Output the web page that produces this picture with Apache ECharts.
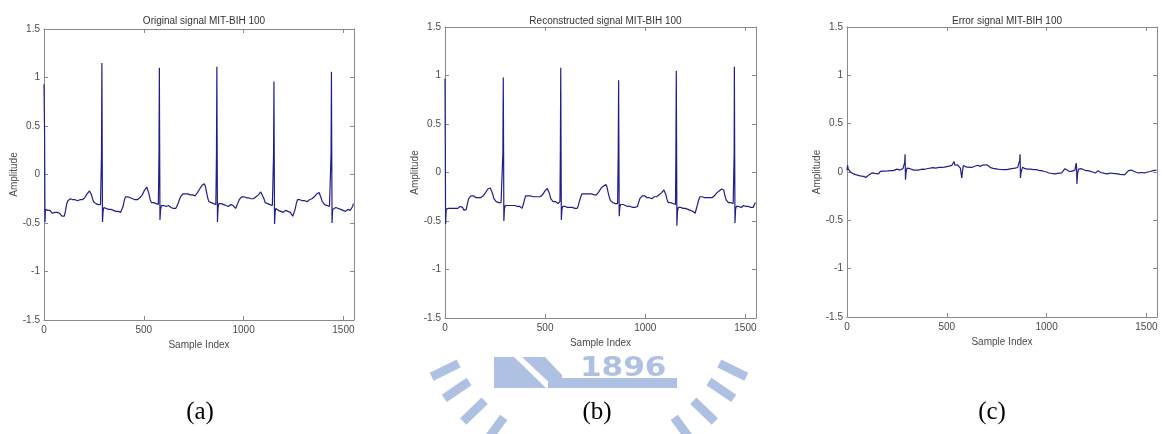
<!DOCTYPE html>
<html>
<head>
<meta charset="utf-8">
<script src="https://cdn.jsdelivr.net/npm/echarts@6/dist/echarts.min.js"></script>
<style>
  html, body { margin: 0; padding: 0; background: #fff; }
  #main { width: 1162px; height: 434px; }
</style>
</head>
<body>
<div id="main"></div>
<script>
// Panel titles and captions
const panelTitles = ['Original signal MIT-BIH 100', 'Reconstructed signal MIT-BIH 100', 'Error signal MIT-BIH 100'];
const panelCaptions = ['(a)', '(b)', '(c)'];

// Axis ticks
const xTicks = [0, 500, 1000, 1500];
const yTicks = [-1.5, -1, -0.5, 0, 0.5, 1, 1.5];
const xMax = 1553;

// [sample index, amplitude]
const originalSignal = [
  [0,0.93],[2,0.95],[3,0.4],[5,-0.49],[7,-0.36],[12,-0.38],[18,-0.37],[24,-0.39],[30,-0.37],[36,-0.38],[42,-0.40],[48,-0.38],[54,-0.39],[60,-0.40],[66,-0.39],[72,-0.41],[78,-0.40],[84,-0.42],[90,-0.43],[96,-0.45],[102,-0.43],[108,-0.37],[114,-0.30],[120,-0.27],[126,-0.26],[132,-0.25],[138,-0.27],[144,-0.26],[150,-0.27],[156,-0.26],[162,-0.28],[168,-0.27],[174,-0.28],[180,-0.26],[186,-0.27],[192,-0.26],[198,-0.25],[204,-0.24],[210,-0.22],[216,-0.20],[222,-0.18],[228,-0.17],[233,-0.18],[238,-0.21],[243,-0.25],[248,-0.28],[254,-0.29],[260,-0.30],[266,-0.29],[272,-0.31],[278,-0.32],[283,-0.31],[286,-0.30],
  [288,0.2],[290,1.15],[291,0.6],[293,-0.49],[296,-0.38],[300,-0.34],[306,-0.36],[312,-0.35],[318,-0.37],[324,-0.36],[330,-0.37],[336,-0.36],[342,-0.38],[348,-0.37],[354,-0.36],[360,-0.38],[366,-0.37],[372,-0.38],[378,-0.37],[384,-0.39],[390,-0.38],[396,-0.33],[402,-0.27],[408,-0.23],[414,-0.22],[420,-0.23],[426,-0.22],[432,-0.24],[438,-0.23],[444,-0.25],[450,-0.24],[456,-0.26],[462,-0.25],[468,-0.26],[474,-0.25],[480,-0.24],[486,-0.23],[492,-0.21],[498,-0.19],[504,-0.16],[510,-0.14],[515,-0.13],[520,-0.15],[526,-0.20],[532,-0.26],[538,-0.29],[544,-0.30],[550,-0.29],[556,-0.31],[562,-0.30],[568,-0.32],[573,-0.31],
  [576,0.2],[578,1.10],[579,0.5],[581,-0.47],[584,-0.36],[588,-0.32],[594,-0.33],[600,-0.32],[606,-0.34],[612,-0.33],[618,-0.34],[624,-0.32],[630,-0.33],[636,-0.34],[642,-0.33],[648,-0.35],[654,-0.34],[660,-0.35],[666,-0.34],[672,-0.30],[678,-0.26],[684,-0.23],[690,-0.21],[696,-0.20],[702,-0.19],[708,-0.20],[714,-0.21],[720,-0.20],[726,-0.22],[732,-0.21],[738,-0.22],[744,-0.21],[750,-0.23],[756,-0.22],[762,-0.21],[768,-0.19],[774,-0.17],[780,-0.15],[786,-0.13],[792,-0.11],[798,-0.10],[803,-0.095],[808,-0.12],[814,-0.18],[820,-0.24],[826,-0.28],[832,-0.30],[838,-0.29],[844,-0.31],[850,-0.30],[856,-0.32],[861,-0.31],
  [864,0.2],[866,1.11],[867,0.5],[869,-0.49],[872,-0.34],[876,-0.30],[882,-0.31],[888,-0.30],[894,-0.32],[900,-0.31],[906,-0.30],[912,-0.32],[918,-0.31],[924,-0.33],[930,-0.32],[936,-0.31],[942,-0.33],[948,-0.32],[954,-0.34],[960,-0.35],[966,-0.33],[972,-0.29],[978,-0.26],[984,-0.24],[990,-0.23],[996,-0.24],[1002,-0.23],[1008,-0.25],[1014,-0.24],[1020,-0.25],[1026,-0.24],[1032,-0.26],[1038,-0.25],[1044,-0.26],[1050,-0.25],[1056,-0.24],[1062,-0.23],[1068,-0.22],[1074,-0.21],[1080,-0.19],[1086,-0.18],[1091,-0.175],[1096,-0.20],[1102,-0.25],[1108,-0.29],[1114,-0.31],[1120,-0.30],[1126,-0.32],[1132,-0.31],[1138,-0.33],[1144,-0.32],[1148,-0.31],
  [1150,0.2],[1152,0.96],[1153,0.4],[1155,-0.51],[1158,-0.38],[1162,-0.35],[1168,-0.36],[1174,-0.37],[1180,-0.36],[1186,-0.38],[1192,-0.37],[1198,-0.39],[1204,-0.38],[1210,-0.37],[1216,-0.39],[1222,-0.38],[1228,-0.40],[1234,-0.39],[1240,-0.41],[1246,-0.43],[1252,-0.42],[1258,-0.36],[1264,-0.30],[1270,-0.26],[1276,-0.25],[1282,-0.26],[1288,-0.25],[1294,-0.27],[1300,-0.26],[1306,-0.27],[1312,-0.26],[1318,-0.28],[1324,-0.27],[1330,-0.26],[1336,-0.27],[1342,-0.25],[1348,-0.24],[1354,-0.23],[1360,-0.21],[1366,-0.20],[1372,-0.19],[1378,-0.185],[1383,-0.20],[1388,-0.24],[1394,-0.28],[1400,-0.30],[1406,-0.31],[1412,-0.30],[1418,-0.32],[1424,-0.31],[1430,-0.33],[1436,-0.32],
  [1438,0.2],[1440,1.06],[1441,0.5],[1443,-0.50],[1446,-0.36],[1450,-0.34],[1456,-0.35],[1462,-0.34],[1468,-0.36],[1474,-0.35],[1480,-0.37],[1486,-0.36],[1492,-0.35],[1498,-0.37],[1504,-0.36],[1510,-0.38],[1516,-0.37],[1522,-0.36],[1528,-0.38],[1534,-0.37],[1540,-0.36],[1546,-0.33],[1550,-0.30]
];

const reconstructedSignal = [
  [0,0.97],[1,0.5],[3,-0.53],[6,-0.38],[10,-0.36],[16,-0.37],[22,-0.36],[28,-0.37],[34,-0.36],[40,-0.37],[46,-0.36],[52,-0.37],[58,-0.36],[64,-0.37],[70,-0.36],[76,-0.35],[82,-0.34],[88,-0.36],[94,-0.39],[100,-0.40],[106,-0.38],[112,-0.32],[118,-0.27],[124,-0.25],[130,-0.24],[136,-0.25],[142,-0.24],[148,-0.25],[154,-0.26],[160,-0.25],[166,-0.26],[172,-0.27],[178,-0.26],[184,-0.25],[190,-0.24],[196,-0.23],[202,-0.21],[208,-0.19],[214,-0.17],[220,-0.16],[226,-0.16],[232,-0.18],[238,-0.22],[244,-0.27],[250,-0.29],[256,-0.30],[262,-0.31],[268,-0.31],[274,-0.32],[280,-0.31],[285,-0.30],
  [289,0.2],[291,0.98],[292,0.5],[294,-0.50],[297,-0.37],[301,-0.34],[307,-0.35],[313,-0.34],[319,-0.35],[325,-0.34],[331,-0.35],[337,-0.34],[343,-0.35],[349,-0.34],[355,-0.36],[361,-0.35],[367,-0.36],[373,-0.35],[379,-0.37],[385,-0.37],[391,-0.33],[397,-0.28],[403,-0.24],[409,-0.23],[415,-0.24],[421,-0.23],[427,-0.24],[433,-0.23],[439,-0.25],[445,-0.24],[451,-0.25],[457,-0.26],[463,-0.25],[469,-0.24],[475,-0.25],[481,-0.24],[487,-0.23],[493,-0.21],[499,-0.19],[505,-0.17],[511,-0.165],[516,-0.18],[522,-0.22],[528,-0.27],[534,-0.29],[540,-0.30],[546,-0.31],[552,-0.30],[558,-0.31],[564,-0.32],[570,-0.31],[574,-0.30],
  [576,0.2],[578,1.08],[579,0.5],[581,-0.49],[584,-0.38],[588,-0.35],[594,-0.36],[600,-0.35],[606,-0.37],[612,-0.36],[618,-0.37],[624,-0.36],[630,-0.37],[636,-0.36],[642,-0.38],[648,-0.37],[654,-0.38],[660,-0.37],[666,-0.34],[672,-0.29],[678,-0.25],[684,-0.22],[690,-0.21],[696,-0.22],[702,-0.21],[708,-0.22],[714,-0.23],[720,-0.22],[726,-0.23],[732,-0.22],[738,-0.24],[744,-0.23],[750,-0.22],[756,-0.23],[762,-0.21],[768,-0.20],[774,-0.18],[780,-0.16],[786,-0.15],[792,-0.14],[798,-0.13],[804,-0.125],[809,-0.15],[814,-0.20],[820,-0.25],[826,-0.29],[832,-0.30],[838,-0.31],[844,-0.30],[850,-0.32],[856,-0.31],[862,-0.32],
  [865,0.2],[867,0.95],[868,0.4],[870,-0.45],[873,-0.36],[877,-0.33],[883,-0.34],[889,-0.33],[895,-0.35],[901,-0.34],[907,-0.33],[913,-0.35],[919,-0.34],[925,-0.35],[931,-0.34],[937,-0.36],[943,-0.35],[949,-0.36],[955,-0.37],[961,-0.35],[967,-0.31],[973,-0.27],[979,-0.25],[985,-0.24],[991,-0.25],[997,-0.24],[1003,-0.25],[1009,-0.26],[1015,-0.25],[1021,-0.26],[1027,-0.25],[1033,-0.27],[1039,-0.26],[1045,-0.25],[1051,-0.26],[1057,-0.25],[1063,-0.24],[1069,-0.23],[1075,-0.22],[1081,-0.21],[1087,-0.19],[1093,-0.18],[1098,-0.19],[1103,-0.23],[1109,-0.28],[1115,-0.31],[1121,-0.32],[1127,-0.31],[1133,-0.33],[1139,-0.32],[1145,-0.34],[1151,-0.33],
  [1153,0.2],[1155,1.05],[1156,0.5],[1158,-0.55],[1161,-0.40],[1165,-0.36],[1171,-0.37],[1177,-0.36],[1183,-0.38],[1189,-0.37],[1195,-0.38],[1201,-0.37],[1207,-0.39],[1213,-0.38],[1219,-0.37],[1225,-0.39],[1231,-0.38],[1237,-0.40],[1243,-0.41],[1249,-0.42],[1255,-0.40],[1261,-0.33],[1267,-0.28],[1273,-0.25],[1279,-0.24],[1285,-0.25],[1291,-0.24],[1297,-0.26],[1303,-0.25],[1309,-0.26],[1315,-0.27],[1321,-0.26],[1327,-0.27],[1333,-0.26],[1339,-0.25],[1345,-0.24],[1351,-0.23],[1357,-0.21],[1363,-0.20],[1369,-0.19],[1375,-0.18],[1381,-0.17],[1387,-0.16],[1392,-0.18],[1397,-0.23],[1403,-0.28],[1409,-0.30],[1415,-0.31],[1421,-0.32],[1427,-0.31],[1433,-0.33],[1439,-0.32],[1443,-0.31],
  [1444,0.2],[1445,1.09],[1446,0.5],[1448,-0.52],[1451,-0.38],[1455,-0.35],[1461,-0.34],[1467,-0.35],[1473,-0.34],[1479,-0.36],[1485,-0.35],[1491,-0.34],[1497,-0.36],[1503,-0.35],[1509,-0.36],[1515,-0.35],[1521,-0.37],[1527,-0.36],[1533,-0.35],[1539,-0.36],[1545,-0.33],[1550,-0.31]
];

const errorSignal = [
  [0,0.02],[3,0.07],[6,0.03],[12,0.01],[18,0.0],[25,-0.01],[32,-0.02],[40,-0.02],[48,-0.03],[58,-0.027],[66,-0.04],[74,-0.035],[82,-0.045],[90,-0.05],[96,-0.055],[102,-0.05],[110,-0.03],[118,-0.015],[125,-0.01],[133,-0.02],[141,-0.015],[150,-0.025],[158,-0.02],[167,0.007],[176,-0.005],[185,0.01],[194,0.0],[203,0.012],[212,0.007],[222,0.015],[233,0.014],[242,0.024],[250,0.03],[258,0.01],[266,0.02],[274,0.03],[280,0.035],[286,0.025],
  [289,0.1],[291,0.184],[293,-0.08],[296,0.0],[300,0.04],[308,0.034],[316,0.034],[325,0.028],[335,0.02],[345,0.026],[355,0.02],[367,0.024],[378,0.03],[390,0.028],[405,0.036],[417,0.04],[430,0.045],[445,0.04],[460,0.048],[475,0.047],[488,0.05],[500,0.055],[512,0.06],[525,0.068],[531,0.085],[536,0.109],[541,0.07],[548,0.08],[553,0.075],[560,0.06],[568,0.04],[572,-0.02],[575,-0.062],[578,0.0],
  [583,0.068],[591,0.058],[600,0.05],[610,0.055],[625,0.047],[640,0.06],[655,0.07],[667,0.058],[680,0.072],[690,0.08],[700,0.075],[710,0.06],[720,0.045],[732,0.038],[742,0.034],[755,0.03],[770,0.026],[785,0.024],[800,0.024],[812,0.03],[825,0.035],[842,0.04],[855,0.047],[862,0.05],
  [865,0.12],[867,0.184],[869,-0.062],[872,0.0],[880,0.05],[892,0.034],[905,0.03],[920,0.03],[935,0.025],[950,0.024],[962,0.015],[975,0.014],[988,0.005],[1000,0.0],[1012,-0.01],[1025,-0.015],[1035,-0.02],[1042,-0.02],[1055,-0.015],[1065,-0.025],[1075,-0.01],[1085,0.01],[1092,0.034],[1100,0.02],[1110,0.01],[1125,0.007],[1135,0.01],[1142,0.02],
  [1148,0.092],[1150,0.05],[1152,-0.123],[1155,-0.02],[1160,0.03],[1167,0.04],[1175,0.034],[1185,0.02],[1195,0.015],[1208,0.014],[1217,0.007],[1230,0.0],[1245,-0.01],[1258,0.014],[1270,-0.005],[1275,-0.02],[1290,-0.015],[1305,-0.02],[1320,-0.01],[1332,-0.015],[1342,-0.01],[1355,-0.02],[1368,-0.025],[1380,-0.027],[1392,-0.027],[1402,-0.01],[1410,0.015],[1417,0.034],[1424,0.02],[1432,0.007],[1445,0.0],[1460,-0.01],[1475,-0.005],[1492,-0.01],[1505,0.0],[1520,0.005],[1533,0.014],[1542,0.005],[1550,0.02]
];

const signals = [originalSignal, reconstructedSignal, errorSignal];

document.addEventListener('DOMContentLoaded', function() {
    const chart = echarts.init(document.getElementById('main'));

    const labelFont = "'Liberation Sans Narrow', 'Liberation Sans', Arial, sans-serif";
    const boxColor = '#8a8a8a';
    const textColor = '#4a4a4a';
    const lineColor = '#1f1f8c';

    const grids = [
        { left: 44, top: 29, width: 310, height: 291 },
        { left: 445, top: 27, width: 311, height: 291 },
        { left: 847, top: 27, width: 310, height: 290 }
    ];

    const xAxes = [];
    const yAxes = [];
    grids.forEach(function(g, i) {
        const common = {
            gridIndex: i,
            type: 'value',
            axisLine: { show: true, onZero: false, lineStyle: { color: boxColor, width: 1 } },
            axisTick: { show: true, inside: true, length: 4, lineStyle: { color: boxColor } },
            splitLine: { show: false }
        };
        xAxes.push(Object.assign({}, common, {
            position: 'bottom', min: 0, max: xMax, interval: 500,
            name: 'Sample Index', nameLocation: 'middle', nameGap: 19,
            nameTextStyle: { fontFamily: labelFont, fontSize: 10, color: textColor },
            axisLabel: {
                fontFamily: labelFont, fontSize: 10, color: textColor, margin: 5,
                showMaxLabel: false,
                formatter: function(v) { return xTicks.indexOf(v) >= 0 ? String(v) : ''; }
            }
        }));
        xAxes.push(Object.assign({}, common, {
            position: 'top', min: 0, max: xMax, interval: 500,
            axisLabel: { show: false }
        }));
        yAxes.push(Object.assign({}, common, {
            position: 'left', min: -1.5, max: 1.5, interval: 0.5,
            name: 'Amplitude', nameLocation: 'middle', nameGap: 25,
            nameTextStyle: { fontFamily: labelFont, fontSize: 10, color: textColor },
            axisLabel: {
                fontFamily: labelFont, fontSize: 10, color: textColor, margin: 4,
                formatter: function(v) { return yTicks.indexOf(v) >= 0 ? String(v) : ''; }
            }
        }));
        yAxes.push(Object.assign({}, common, {
            position: 'right', min: -1.5, max: 1.5, interval: 0.5,
            axisLabel: { show: false }
        }));
    });

    const titles = panelTitles.map(function(t, i) {
        return {
            text: t,
            left: grids[i].left + grids[i].width / 2,
            top: 11,
            textAlign: 'center',
            textStyle: { fontFamily: labelFont, fontSize: 10, fontWeight: 'normal', color: '#333' }
        };
    });

    const series = signals.map(function(d, i) {
        return {
            type: 'line',
            xAxisIndex: i * 2,
            yAxisIndex: i * 2,
            data: d,
            showSymbol: false,
            lineStyle: { color: lineColor, width: 1.2 },
            z: 3
        };
    });

    // captions under each panel
    const captionX = [200, 597, 992];
    const graphics = panelCaptions.map(function(c, i) {
        return {
            type: 'text',
            x: captionX[i],
            y: 412,
            z: 10,
            style: {
                text: c,
                fill: '#000',
                font: "25px 'Liberation Serif', 'Times New Roman', serif",
                textAlign: 'center',
                textVerticalAlign: 'middle'
            }
        };
    });

    // faint university seal watermark behind panel (b)
    const seal = '#afc1e3';
    const cx = 589, cy = 300, r = 160;
    [36, 46, 55.8, 64].forEach(function(deg) {
        const a = deg * Math.PI / 180;
        [-1, 1].forEach(function(side) {
            graphics.push({
                type: 'rect',
                x: cx + side * r * Math.sin(a),
                y: cy + r * Math.cos(a),
                rotation: -side * (Math.PI / 2 - a),
                shape: { x: -15, y: -4.5, width: 30, height: 9 },
                style: { fill: seal },
                z: 0
            });
        });
    });
    graphics.push({
        type: 'text', x: 580, y: 355, z: 0, scaleX: 1.15,
        style: { text: '1896', fill: seal, font: "bold 27px 'DejaVu Sans', sans-serif" }
    });
    graphics.push({
        type: 'polygon', z: 0,
        shape: { points: [[494, 357], [514, 357], [546, 388], [494, 388]] },
        style: { fill: seal }
    });
    graphics.push({
        type: 'polygon', z: 0,
        shape: { points: [[522, 357], [545, 357], [562, 375], [562, 388], [555, 388]] },
        style: { fill: seal }
    });
    graphics.push({
        type: 'rect', z: 0,
        shape: { x: 548, y: 378, width: 129, height: 10 },
        style: { fill: seal }
    });

    chart.setOption({
        animation: false,
        backgroundColor: '#fff',
        title: titles,
        grid: grids.map(function(g) { return Object.assign({ containLabel: false }, g); }),
        xAxis: xAxes,
        yAxis: yAxes,
        series: series,
        graphic: graphics
    });

    window.addEventListener('resize', function() {
        chart.resize();
    });
});
</script>
</body>
</html>
